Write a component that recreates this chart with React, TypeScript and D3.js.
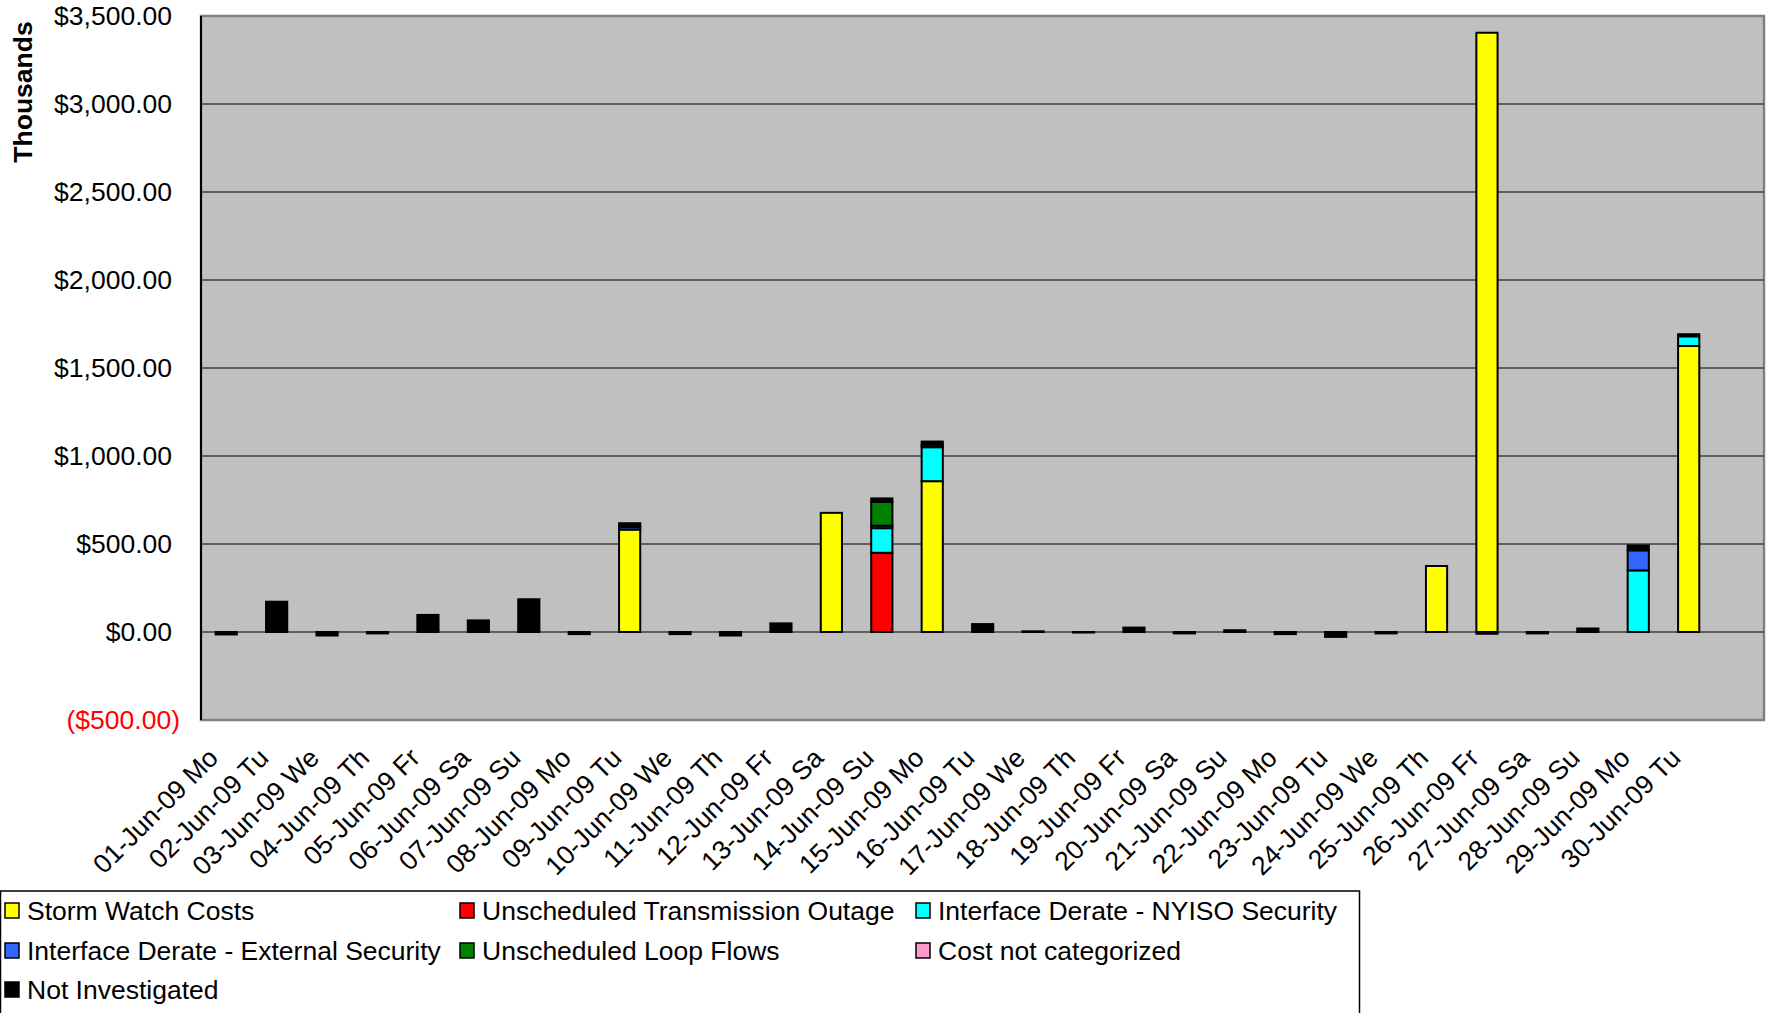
import React from "react";
import * as d3 from "d3";

const dates = [
  "01-Jun-09 Mo","02-Jun-09 Tu","03-Jun-09 We","04-Jun-09 Th","05-Jun-09 Fr","06-Jun-09 Sa","07-Jun-09 Su",
  "08-Jun-09 Mo","09-Jun-09 Tu","10-Jun-09 We","11-Jun-09 Th","12-Jun-09 Fr","13-Jun-09 Sa","14-Jun-09 Su",
  "15-Jun-09 Mo","16-Jun-09 Tu","17-Jun-09 We","18-Jun-09 Th","19-Jun-09 Fr","20-Jun-09 Sa","21-Jun-09 Su",
  "22-Jun-09 Mo","23-Jun-09 Tu","24-Jun-09 We","25-Jun-09 Th","26-Jun-09 Fr","27-Jun-09 Sa","28-Jun-09 Su",
  "29-Jun-09 Mo","30-Jun-09 Tu",
];

// values in thousands of dollars
const stormWatch = [0,0,0,0,0,0,0,0,582,0,0,0,677,0,857,0,0,0,0,0,0,0,0,0,375,3405,0,0,0,1625];
const transOutage = [0,0,0,0,0,0,0,0,0,0,0,0,0,450,0,0,0,0,0,0,0,0,0,0,0,0,0,0,0,0];
const nyisoSecurity = [0,0,0,0,0,0,0,0,0,0,0,0,0,140,193,0,0,0,0,0,0,0,0,0,0,0,0,0,350,55];
const externalSecurity = [0,0,0,0,0,0,0,0,14,0,0,0,0,14,12,0,0,0,0,0,0,0,0,0,0,0,0,0,114,0];
const loopFlows = [0,0,0,0,0,0,0,0,0,0,0,0,0,135,0,0,0,0,0,0,0,0,0,0,0,0,0,0,0,0];
const notCategorized = [0,0,0,0,0,0,0,0,0,0,0,0,0,0,0,0,0,0,0,0,0,0,0,0,0,0,0,0,0,0];
const notInvestigated = [-14,172,-20,-8,97,66,186,-12,22,-12,-20,49,0,20,20,45,4,-3,25,-8,10,-12,-28,-8,0,-10,-8,20,28,12];

const seriesNames = [
  "Storm Watch Costs",
  "Unscheduled Transmission Outage",
  "Interface Derate - NYISO Security",
  "Interface Derate - External Security",
  "Unscheduled Loop Flows",
  "Cost not categorized",
  "Not Investigated",
];
const seriesColors = ["#FFFF00", "#FF0000", "#00FFFF", "#3366FF", "#008000", "#FF99CC", "#000000"];
const yTicks = [-500, 0, 500, 1000, 1500, 2000, 2500, 3000, 3500];

const FONT = "'Liberation Sans', Arial, sans-serif";
const FS = 26.5;

export default function App() {
  const W = 1772, H = 1013;
  const plotL = 201, plotR = 1764, plotT = 16, plotB = 720;
  const allSeries = [stormWatch, transOutage, nyisoSecurity, externalSecurity, loopFlows, notCategorized, notInvestigated];
  const rows = dates.map((d, i) => {
    const r: any = { date: d };
    seriesNames.forEach((n, k) => (r[n] = allSeries[k][i]));
    return r;
  });
  const stacked = d3.stack().keys(seriesNames).offset(d3.stackOffsetDiverging)(rows);

  const x = d3.scaleBand().domain(dates).range([plotL, plotL + 30 * 50.43]).paddingInner(0.58).paddingOuter(0.29);
  const y = d3.scaleLinear().domain([-500, 3500]).range([plotB, plotT]);
  const fmt = (v: number) => {
    const s = "$" + d3.format(",.2f")(Math.abs(v));
    return v < 0 ? "(" + s + ")" : s;
  };

  const legendCols = [4, 459, 915];
  const legendRows = [911, 951, 990];

  return (
    <svg width={W} height={H} style={{ position: "absolute", left: 0, top: 0, background: "#fff" }} fontFamily={FONT}>
      <rect x={plotL} y={plotT} width={plotR - plotL} height={plotB - plotT} fill="#C0C0C0" stroke="#808080" strokeWidth={2.5} />
      {yTicks.filter((t) => t > -500 && t < 3500).map((t) => (
        <line key={t} x1={plotL} x2={plotR} y1={y(t)} y2={y(t)} stroke="#404040" strokeWidth={1.5} />
      ))}
      <line x1={plotL} x2={plotL} y1={plotT} y2={plotB} stroke="#000" strokeWidth={2} />
      {yTicks.map((t) => (
        <text key={t} x={t < 0 ? 180 : 172} y={y(t)} dy="0.35em" textAnchor="end" fontSize={FS} fill={t < 0 ? "#FF0000" : "#000"}>
          {fmt(t)}
        </text>
      ))}
      <text transform={`translate(32,${92}) rotate(-90)`} textAnchor="middle" fontSize={FS} fontWeight="bold">Thousands</text>
      {stacked.map((s, k) => (
        <g key={s.key} fill={seriesColors[k]} stroke="#000" strokeWidth={2}>
          {s.map((d, i) => {
            const h = Math.abs(y(d[0]) - y(d[1]));
            if (h < 0.01) return null;
            return <rect key={i} x={x(dates[i])!} width={x.bandwidth()} y={Math.min(y(d[0]), y(d[1]))} height={h} />;
          })}
        </g>
      ))}
      {dates.map((d) => (
        <text key={d} transform={`translate(${x(d)! + x.bandwidth() / 2 - 20},${746}) rotate(-45)`} textAnchor="end" dy="0.72em" fontSize={FS}>
          {d}
        </text>
      ))}
      <rect x={0.5} y={891} width={1359} height={124} fill="#fff" stroke="#000" strokeWidth={1.5} />
      {seriesNames.map((n, k) => {
        const cx = legendCols[k % 3];
        const cy = legendRows[Math.floor(k / 3)];
        return (
          <g key={n}>
            <rect x={cx + 1} y={cy - 8} width={14} height={15} fill={seriesColors[k]} stroke="#000" strokeWidth={1.5} />
            <text x={cx + 23} y={cy} dy="0.35em" fontSize={FS}>{n}</text>
          </g>
        );
      })}
    </svg>
  );
}
